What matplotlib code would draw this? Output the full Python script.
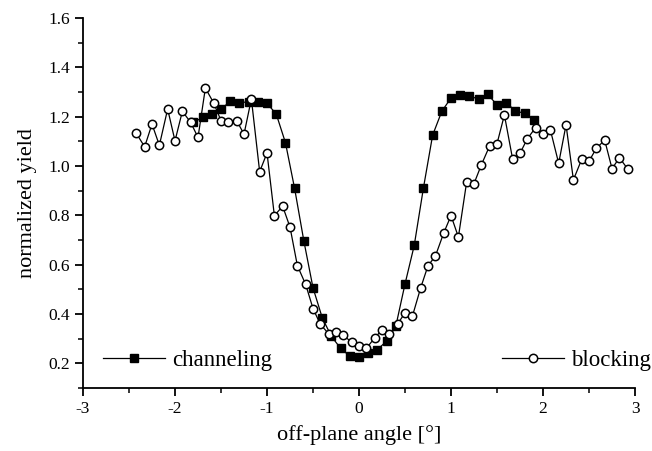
import matplotlib
matplotlib.use("Agg")
import matplotlib.pyplot as plt
from matplotlib.ticker import MultipleLocator

plt.rcParams['font.family'] = ['Liberation Serif', 'DejaVu Serif']
plt.rcParams['axes.unicode_minus'] = False

chan_x = [-1.8, -1.7, -1.6, -1.5, -1.4, -1.3, -1.2, -1.1, -1.0, -0.9,
          -0.8, -0.7, -0.6, -0.5, -0.4, -0.3, -0.2, -0.1, 0.0, 0.1,
          0.2, 0.3, 0.4, 0.5, 0.6, 0.7, 0.8, 0.9, 1.0, 1.1,
          1.2, 1.3, 1.4, 1.5, 1.6, 1.7, 1.8, 1.9]
chan_y = [1.177, 1.197, 1.211, 1.231, 1.262, 1.256, 1.261, 1.260, 1.254, 1.211,
          1.095, 0.909, 0.697, 0.506, 0.385, 0.309, 0.261, 0.229, 0.226, 0.241,
          0.256, 0.290, 0.351, 0.522, 0.678, 0.911, 1.125, 1.222, 1.276, 1.288,
          1.283, 1.272, 1.290, 1.248, 1.256, 1.224, 1.213, 1.188]

block_x = [-2.42, -2.33, -2.25, -2.17, -2.08, -2.00, -1.92, -1.83, -1.75, -1.67,
           -1.58, -1.50, -1.42, -1.33, -1.25, -1.17, -1.08, -1.00, -0.92, -0.83,
           -0.75, -0.67, -0.58, -0.50, -0.42, -0.33, -0.25, -0.17, -0.08, 0.00,
           0.08, 0.17, 0.25, 0.33, 0.42, 0.50, 0.58, 0.67, 0.75, 0.83,
           0.92, 1.00, 1.08, 1.17, 1.25, 1.33, 1.42, 1.50, 1.58, 1.67,
           1.75, 1.83, 1.92, 2.00, 2.08, 2.17, 2.25, 2.33, 2.42, 2.50,
           2.58, 2.67, 2.75, 2.83, 2.92]
block_y = [1.132, 1.078, 1.170, 1.084, 1.231, 1.102, 1.222, 1.177, 1.116, 1.316,
           1.256, 1.184, 1.177, 1.184, 1.129, 1.272, 0.977, 1.053, 0.799, 0.837,
           0.752, 0.596, 0.520, 0.422, 0.358, 0.320, 0.327, 0.313, 0.286, 0.269,
           0.261, 0.303, 0.336, 0.317, 0.360, 0.405, 0.391, 0.506, 0.596, 0.635,
           0.728, 0.799, 0.712, 0.936, 0.929, 1.005, 1.082, 1.091, 1.207, 1.027,
           1.052, 1.111, 1.156, 1.129, 1.146, 1.011, 1.167, 0.944, 1.027, 1.020,
           1.072, 1.105, 0.989, 1.034, 0.988]

fig = plt.figure(figsize=(6.52, 4.51), dpi=100)
ax = fig.add_axes([0.1273, 0.1397, 0.8467, 0.8203])

l1, = ax.plot(chan_x, chan_y, color='black', lw=0.9, marker='s', ms=6.3,
              mfc='black', mec='black', label='channeling', zorder=3)
l2, = ax.plot(block_x, block_y, color='black', lw=0.9, marker='o', ms=6.0,
              mfc='white', mec='black', mew=1.1, label='blocking', zorder=4)

ax.set_xlim(-3, 3)
ax.set_ylim(0.1, 1.6)
ax.xaxis.set_major_locator(MultipleLocator(1))
ax.xaxis.set_minor_locator(MultipleLocator(0.5))
ax.yaxis.set_minor_locator(MultipleLocator(0.1))
ax.set_yticks([0.2, 0.4, 0.6, 0.8, 1.0, 1.2, 1.4, 1.6])
ax.set_yticklabels(['0.2', '0.4', '0.6', '0.8', '1.0', '1.2', '1.4', '1.6'])

for s in ['top', 'right']:
    ax.spines[s].set_visible(False)
for s in ['left', 'bottom']:
    ax.spines[s].set_linewidth(1.3)
ax.tick_params(which='major', direction='out', length=6, width=1.3, labelsize=12.5)
ax.tick_params(which='minor', direction='out', length=3.5, width=1.1)

ax.set_xlabel('off-plane angle [°]', fontsize=16, labelpad=6)
ax.set_ylabel('normalized yield', fontsize=16, labelpad=8)

leg1 = ax.legend(handles=[l1], loc='lower left', bbox_to_anchor=(0.02, 0.022),
                 frameon=False, fontsize=16.5, handlelength=2.7, handletextpad=0.3,
                 borderaxespad=0)
ax.add_artist(leg1)
ax.legend(handles=[l2], loc='lower right', bbox_to_anchor=(1.045, 0.02),
          frameon=False, fontsize=16.5, handlelength=2.7, handletextpad=0.3,
          borderaxespad=0)

fig.savefig('out.png', dpi=100)
